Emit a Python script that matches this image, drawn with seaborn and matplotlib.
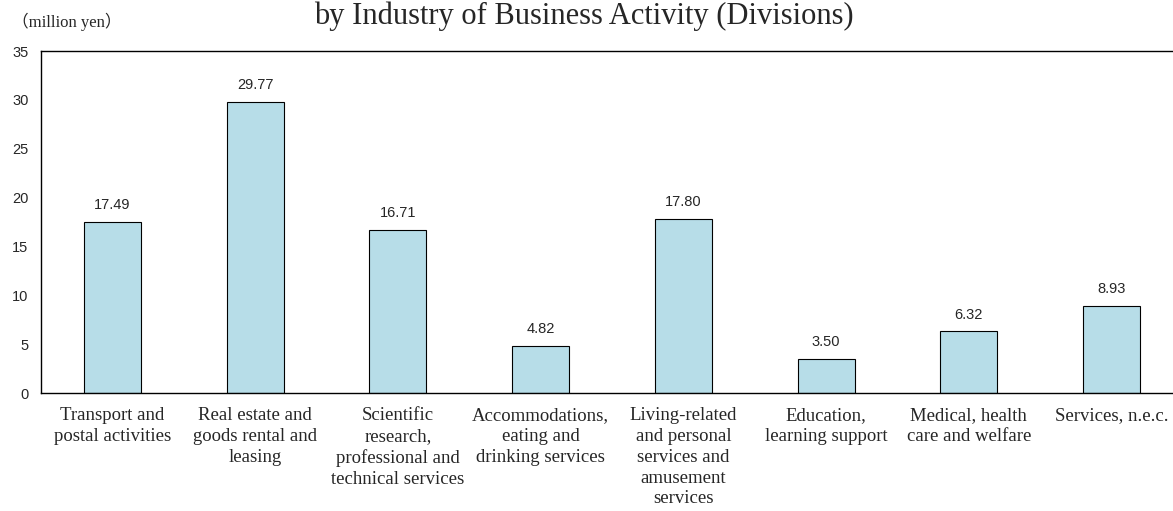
import matplotlib
matplotlib.use("Agg")
import matplotlib.pyplot as plt
import seaborn as sns
import pandas as pd
from matplotlib.ticker import FixedLocator

# Data
categories = [
    "Transport and\npostal activities",
    "Real estate and\ngoods rental and\nleasing",
    "Scientific\nresearch,\nprofessional and\ntechnical services",
    "Accommodations,\neating and\ndrinking services",
    "Living-related\nand personal\nservices and\namusement\nservices",
    "Education,\nlearning support",
    "Medical, health\ncare and welfare",
    "Services, n.e.c.",
]
values = [17.49, 29.77, 16.71, 4.82, 17.80, 3.50, 6.32, 8.93]
y_ticks = [0, 5, 10, 15, 20, 25, 30, 35]

df = pd.DataFrame({"category": categories, "value": values})

sns.set_style("white")
serif = ["Liberation Serif", "Noto Sans CJK JP", "DejaVu Serif"]
sans = ["Liberation Sans", "DejaVu Sans"]

fig = plt.figure(figsize=(11.73, 5.11), dpi=100)
ax = fig.add_axes([41 / 1173, 118 / 511, 1142 / 1173, 342 / 511])

sns.barplot(data=df, x="category", y="value", color="#B7DDE8",
            edgecolor="black", linewidth=0.8, width=0.4, saturation=1, ax=ax)

ax.set_xlim(-0.5, len(categories) - 0.5)
ax.set_ylim(0, 35)
ax.set_yticks(y_ticks)
ax.set_yticklabels([str(t) for t in y_ticks], family=sans, fontsize=10.5)
ax.tick_params(axis="y", direction="out", length=4, width=0.8, color="black", pad=5)

ax.set_xticks(range(len(categories)))
ax.set_xticklabels(categories, family=serif, fontsize=13.5, linespacing=1.3)
ax.tick_params(axis="x", which="major", length=0, pad=10)
ax.xaxis.set_minor_locator(FixedLocator([i + 0.5 for i in range(len(categories) - 1)]))
ax.tick_params(axis="x", which="minor", direction="in", length=4, width=0.8, color="black")
ax.set_xlabel("")
ax.set_ylabel("")

for side in ["top", "left", "bottom", "right"]:
    ax.spines[side].set_visible(True)
    ax.spines[side].set_color("black")
    ax.spines[side].set_linewidth(1.0)

for c in ax.containers:
    ax.bar_label(c, fmt="%.2f", padding=7, family=sans, fontsize=10.5)

fig.text(584 / 1173, 1 - 24 / 511, "by Industry of Business Activity (Divisions)",
         family=serif, fontsize=22, ha="center", va="baseline")
fig.text(12 / 1173, 1 - 22 / 511, "（million yen）", family=serif, fontsize=12,
         ha="left", va="center")

fig.savefig("out.png", dpi=100)
